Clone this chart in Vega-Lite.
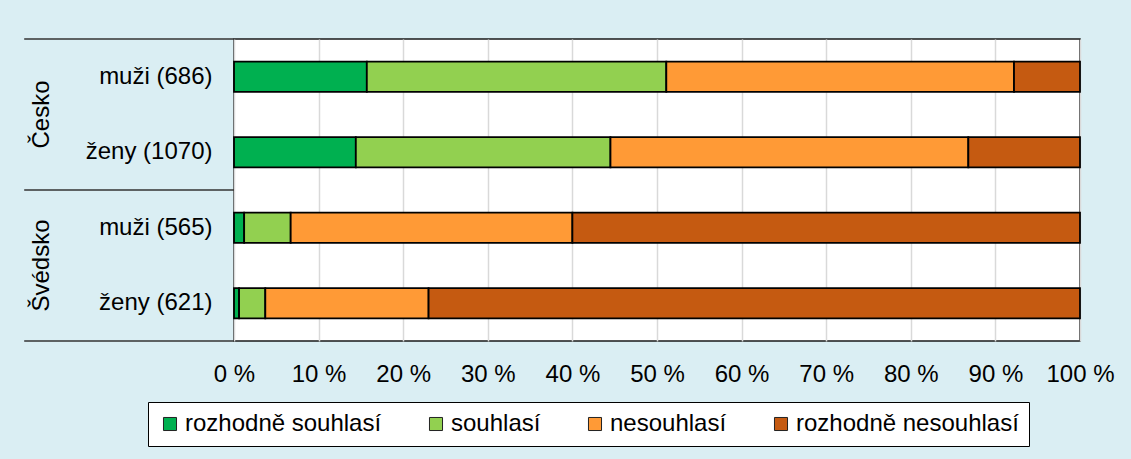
{
  "$schema": "https://vega.github.io/schema/vega-lite/v6.json",
  "width": 846,
  "height": 302,
  "autosize": {"type": "none"},
  "padding": {"left": 234, "top": 39, "right": 51, "bottom": 118},
  "background": "#DAEEF3",
  "config": {
    "font": "Liberation Sans",
    "view": {"fill": "white", "stroke": "#1a1a1a", "strokeWidth": 1.5},
    "axis": {"labelFont": "Liberation Sans", "labelFontSize": 24, "labelColor": "black", "ticks": false, "domain": false, "title": null},
    "legend": {"labelFont": "Liberation Sans"}
  },
  "datasets": {
    "bars": [
      {"label": "muži (686)", "cat": "rozhodně souhlasí", "ord": 1, "v": 15.7},
      {"label": "muži (686)", "cat": "souhlasí", "ord": 2, "v": 35.4},
      {"label": "muži (686)", "cat": "nesouhlasí", "ord": 3, "v": 41.1},
      {"label": "muži (686)", "cat": "rozhodně nesouhlasí", "ord": 4, "v": 7.8},
      {"label": "ženy (1070)", "cat": "rozhodně souhlasí", "ord": 1, "v": 14.4},
      {"label": "ženy (1070)", "cat": "souhlasí", "ord": 2, "v": 30.1},
      {"label": "ženy (1070)", "cat": "nesouhlasí", "ord": 3, "v": 42.3},
      {"label": "ženy (1070)", "cat": "rozhodně nesouhlasí", "ord": 4, "v": 13.2},
      {"label": "muži (565)", "cat": "rozhodně souhlasí", "ord": 1, "v": 1.2},
      {"label": "muži (565)", "cat": "souhlasí", "ord": 2, "v": 5.5},
      {"label": "muži (565)", "cat": "nesouhlasí", "ord": 3, "v": 33.3},
      {"label": "muži (565)", "cat": "rozhodně nesouhlasí", "ord": 4, "v": 60.0},
      {"label": "ženy (621)", "cat": "rozhodně souhlasí", "ord": 1, "v": 0.6},
      {"label": "ženy (621)", "cat": "souhlasí", "ord": 2, "v": 3.1},
      {"label": "ženy (621)", "cat": "nesouhlasí", "ord": 3, "v": 19.3},
      {"label": "ženy (621)", "cat": "rozhodně nesouhlasí", "ord": 4, "v": 77.0}
    ],
    "groups": [
      {"country": "Česko", "label": "ženy (1070)"},
      {"country": "Švédsko", "label": "ženy (621)"}
    ],
    "sepTop": [
      {"label": "muži (686)"},
      {"label": "muži (565)"}
    ],
    "sepBottom": [
      {"label": "ženy (621)"}
    ]
  },
  "layer": [
    {
      "data": {"name": "bars"},
      "mark": {"type": "bar", "stroke": "black", "strokeWidth": 1.8},
      "encoding": {
        "x": {
          "field": "v", "type": "quantitative", "stack": "zero",
          "scale": {"domain": [0, 100], "nice": false},
          "axis": {"values": [0,10,20,30,40,50,60,70,80,90,100], "labelExpr": "datum.value + ' %'", "labelOverlap": false, "labelFlush": false, "grid": true, "gridColor": "#D9D9D9", "gridWidth": 1.5, "labelPadding": 21}
        },
        "y": {
          "field": "label", "type": "nominal",
          "scale": {"domain": ["muži (686)", "ženy (1070)", "muži (565)", "ženy (621)"], "paddingInner": 0.6, "paddingOuter": 0.3},
          "axis": {"labelPadding": 22, "grid": false}
        },
        "order": {"field": "ord", "type": "quantitative"},
        "color": {
          "field": "cat", "type": "nominal",
          "scale": {"domain": ["rozhodně souhlasí", "souhlasí", "nesouhlasí", "rozhodně nesouhlasí"], "range": ["#00B050", "#92D050", "#FF9A36", "#C55A11"]},
          "legend": {
            "orient": "none", "legendX": -86, "legendY": 363, "direction": "horizontal", "title": null,
            "fillColor": "white", "strokeColor": "black", "padding": 10,
            "symbolType": "square", "symbolSize": 170, "symbolStrokeColor": "#222", "symbolStrokeWidth": 1, "symbolOpacity": 1,
            "labelFontSize": 24, "labelColor": "black", "labelOffset": 3, "columnPadding": 42, "labelLimit": 400
          }
        }
      }
    },
    {
      "data": {"name": "sepTop"},
      "mark": {"type": "rule", "color": "#333", "strokeWidth": 1.5},
      "encoding": {
        "x": {"datum": -24.8},
        "x2": {"datum": 0},
        "y": {"field": "label", "type": "nominal", "bandPosition": -0.75}
      }
    },
    {
      "data": {"name": "sepBottom"},
      "mark": {"type": "rule", "color": "#333", "strokeWidth": 1.5},
      "encoding": {
        "x": {"datum": -24.8},
        "x2": {"datum": 0},
        "y": {"field": "label", "type": "nominal", "bandPosition": 1.75}
      }
    },
    {
      "data": {"name": "groups"},
      "mark": {"type": "text", "angle": 270, "fontSize": 24, "align": "center", "baseline": "middle", "color": "black", "font": "Liberation Sans"},
      "encoding": {
        "x": {"datum": -22.7},
        "y": {"field": "label", "type": "nominal", "bandPosition": -0.75},
        "text": {"field": "country"}
      }
    }
  ]
}
